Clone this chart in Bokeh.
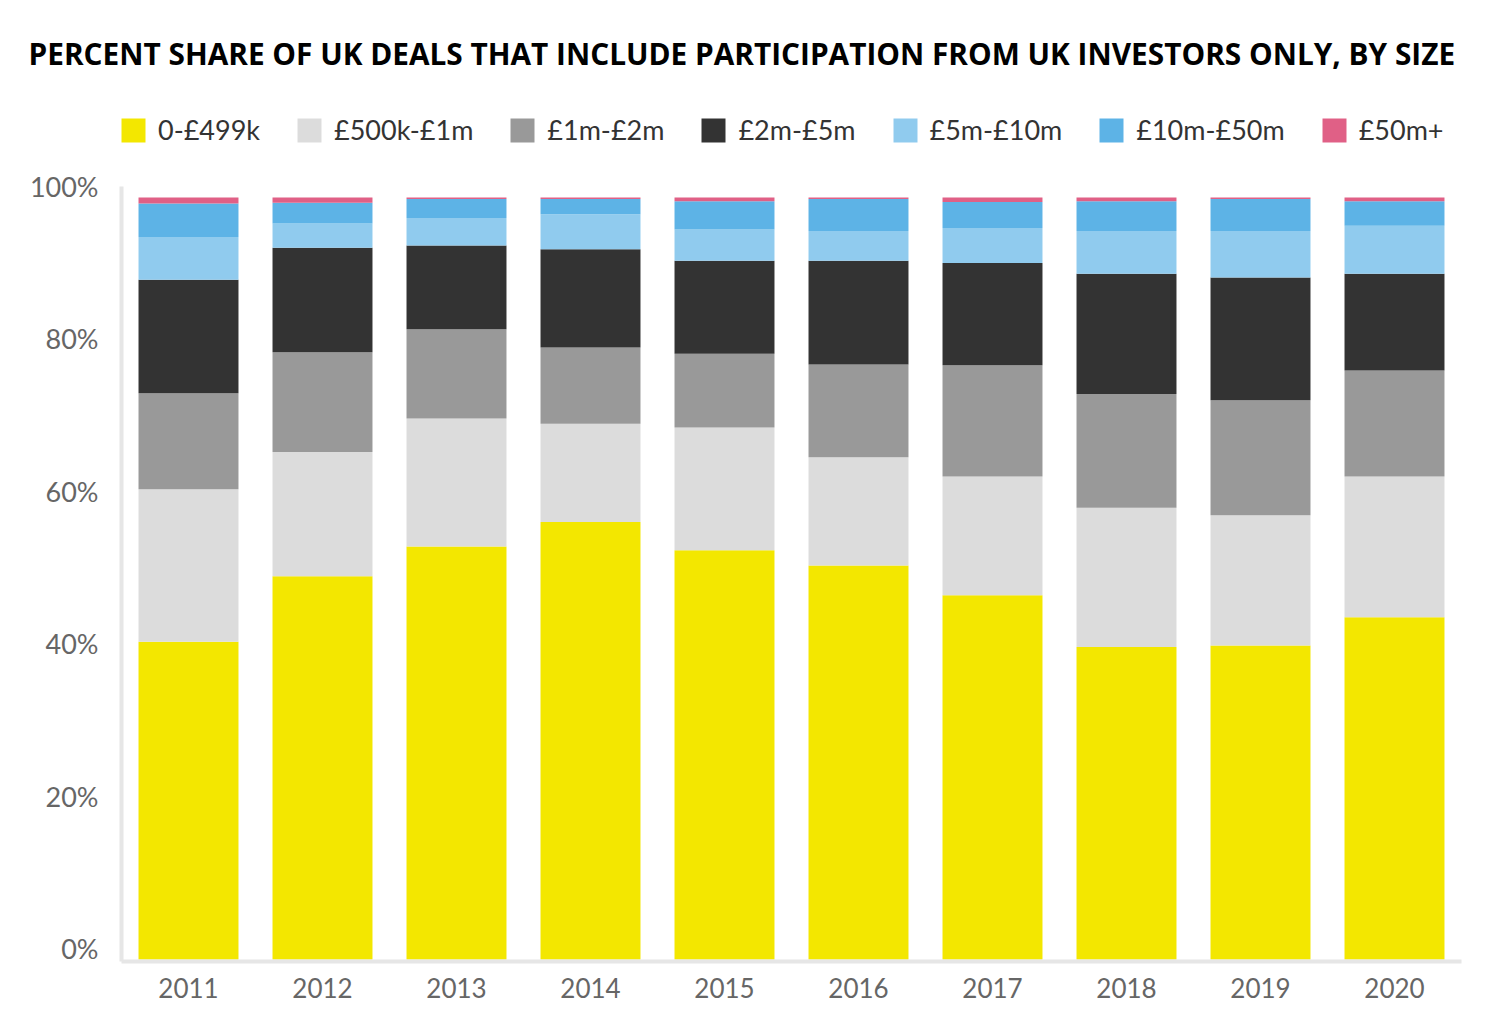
from bokeh.plotting import figure
from bokeh.models import (Range1d, LinearAxis, FixedTicker, PrintfTickFormatter,
                          Legend, LegendItem, FactorRange)
from bokeh.embed import file_html
from bokeh.resources import INLINE

years = ["2011", "2012", "2013", "2014", "2015", "2016", "2017", "2018", "2019", "2020"]
series = ["0-£499k", "£500k-£1m", "£1m-£2m", "£2m-£5m", "£5m-£10m", "£10m-£50m", "£50m+"]
colors = ["#F3E700", "#DCDCDC", "#999999", "#333333", "#90CBEE", "#5DB3E6", "#E06086"]

s_0_499k = [41.7, 50.3, 54.2, 57.4, 53.7, 51.7, 47.8, 41.0, 41.2, 44.9]
s_500k_1m = [20.0, 16.3, 16.8, 12.9, 16.1, 14.2, 15.6, 18.3, 17.1, 18.5]
s_1m_2m = [12.6, 13.1, 11.7, 10.0, 9.7, 12.2, 14.6, 14.9, 15.1, 13.9]
s_2m_5m = [14.9, 13.7, 11.0, 12.9, 12.2, 13.6, 13.4, 15.8, 16.1, 12.7]
s_5m_10m = [5.6, 3.2, 3.6, 4.6, 4.1, 3.9, 4.6, 5.6, 6.1, 6.3]
s_10m_50m = [4.4, 2.7, 2.5, 2.0, 3.7, 4.2, 3.4, 3.9, 4.2, 3.2]
s_50m_plus = [0.8, 0.7, 0.2, 0.2, 0.5, 0.2, 0.6, 0.5, 0.2, 0.5]

y_ticks = [0, 20, 40, 60, 80, 100]

data = {"year": years}
for name, vals in zip(series, [s_0_499k, s_500k_1m, s_1m_2m, s_2m_5m, s_5m_10m, s_10m_50m, s_50m_plus]):
    data[name] = vals

# layout geometry (pixels)
FRAME_TOP, FRAME_BOTTOM = 100, 961
FRAME_LEFT, FRAME_RIGHT = 121, 1461
ZERO_PX, FULL_PX = 959, 197          # where 0% and 100% of the bars sit
LABEL_SHIFT = 11                      # tick labels sit slightly above the bar scale
LEGEND_BOTTOM = 146
u = 100.0 / (ZERO_PX - FULL_PX)       # data units per pixel
y_lo = -(FRAME_BOTTOM - ZERO_PX) * u
y_hi = (ZERO_PX - FRAME_TOP) * u
shift = LABEL_SHIFT * u

FONT = "Lato"

p = figure(frame_width=FRAME_RIGHT - FRAME_LEFT, frame_height=FRAME_BOTTOM - FRAME_TOP,
           output_backend="svg", toolbar_location=None,
           x_range=FactorRange(factors=years, range_padding=0),
           y_range=Range1d(y_lo, y_hi), y_axis_location=None,
           min_border_left=FRAME_LEFT, min_border_right=20, min_border_top=FRAME_TOP,
           min_border_bottom=50,
           outline_line_color=None, background_fill_color="white", border_fill_color="white")

p.title.text = "PERCENT SHARE OF UK DEALS THAT INCLUDE PARTICIPATION FROM UK INVESTORS ONLY, BY SIZE"
p.title.text_font = "Open Sans"
p.title.text_font_size = "29.8px"
p.title.text_font_style = "bold"
p.title.text_color = "#000000"
p.title.align = "left"
p.title.offset = 28 - FRAME_LEFT
p.title.standoff = 54

renderers = p.vbar_stack(series, x="year", width=0.746, color=colors, line_width=0, source=data)

p.extra_y_ranges = {"lbl": Range1d(y_lo - shift, y_hi - shift)}
yax = LinearAxis(y_range_name="lbl", ticker=FixedTicker(ticks=y_ticks),
                 formatter=PrintfTickFormatter(format="%d%%"),
                 bounds=(y_lo - shift, 100))
yax.axis_line_color = "#E6E6E6"
yax.axis_line_width = 4
yax.major_tick_line_color = None
yax.minor_tick_line_color = None
yax.major_label_text_font = FONT
yax.major_label_text_font_size = "27px"
yax.major_label_text_color = "#666666"
yax.major_label_standoff = 17
p.add_layout(yax, "left")

xax = p.xaxis[0]
xax.axis_line_color = "#E6E6E6"
xax.axis_line_width = 4
xax.major_tick_line_color = None
xax.minor_tick_line_color = None
xax.major_label_text_font = FONT
xax.major_label_text_font_size = "26px"
xax.major_label_text_color = "#666666"
xax.major_label_standoff = 10

p.xgrid.visible = False
p.ygrid.visible = False

items = [LegendItem(label=s, renderers=[r]) for s, r in zip(series, renderers)]
legend = Legend(items=items, orientation="horizontal",
                location=(-3, FRAME_BOTTOM - LEGEND_BOTTOM),
                glyph_width=30, glyph_height=30, label_height=30, label_standoff=10,
                spacing=34, padding=0, margin=0, border_line_color=None,
                background_fill_alpha=0,
                label_text_font=FONT, label_text_font_size="27px", label_text_color="#333333")
p.add_layout(legend, "center")

open("out.html", "w").write(file_html(p, INLINE))
